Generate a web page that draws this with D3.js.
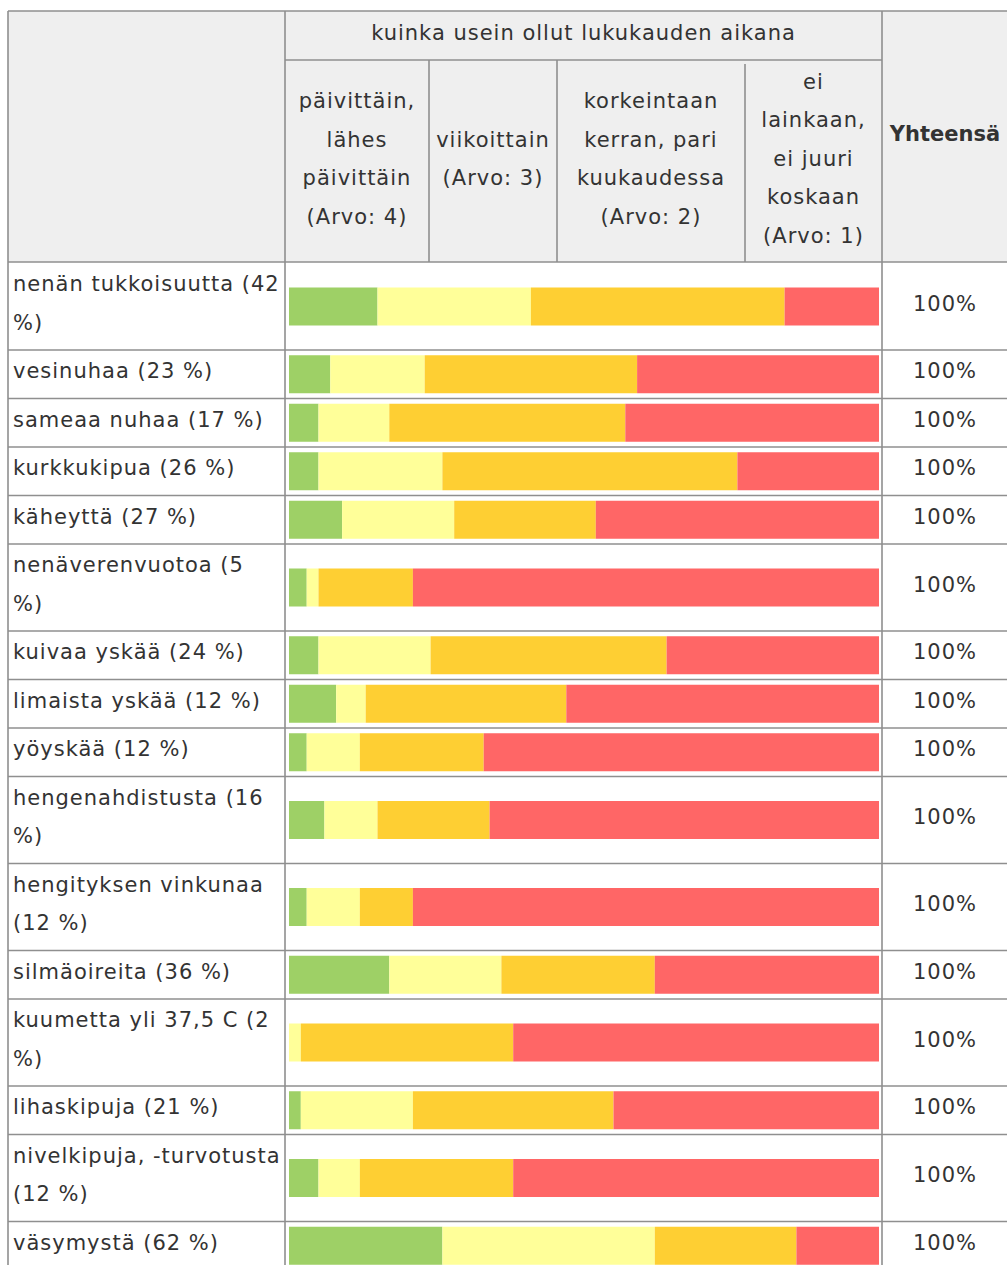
<!DOCTYPE html>
<html lang="fi">
<head>
<meta charset="utf-8">
<style>
  body { margin: 0; padding: 0; background: #fff; }
  svg text { font-family: "DejaVu Sans", Verdana, sans-serif; fill: #333; }
</style>
</head>
<body>
<svg width="1007" height="1265"></svg>
<script src="https://d3js.org/d3.v7.min.js"></script>
<script>
// data (% of answers per frequency class)
var categories = [
  "nenän tukkoisuutta (42 %)", "vesinuhaa (23 %)", "sameaa nuhaa (17 %)", "kurkkukipua (26 %)",
  "käheyttä (27 %)", "nenäverenvuotoa (5 %)", "kuivaa yskää (24 %)", "limaista yskää (12 %)",
  "yöyskää (12 %)", "hengenahdistusta (16 %)", "hengityksen vinkunaa (12 %)", "silmäoireita (36 %)",
  "kuumetta yli 37,5 C (2 %)", "lihaskipuja (21 %)", "nivelkipuja, -turvotusta (12 %)", "väsymystä (62 %)"
];
var daily   = [15, 7, 5, 5, 9, 3, 5, 8, 3, 6, 3, 17, 0, 2, 5, 26];
var weekly  = [26, 16, 12, 21, 19, 2, 19, 5, 9, 9, 9, 19, 2, 19, 7, 36];
var monthly = [43, 36, 40, 50, 24, 16, 40, 34, 21, 19, 9, 26, 36, 34, 26, 24];
var never   = [16, 41, 43, 24, 48, 79, 36, 53, 67, 66, 79, 38, 62, 45, 62, 14];

var groupTitle = "kuinka usein ollut lukukauden aikana";
var seriesHeaders = [
  ["päivittäin,", "lähes", "päivittäin", "(Arvo: 4)"],
  ["viikoittain", "(Arvo: 3)"],
  ["korkeintaan", "kerran, pari", "kuukaudessa", "(Arvo: 2)"],
  ["ei", "lainkaan,", "ei juuri", "koskaan", "(Arvo: 1)"]
];
var totalTitle = "Yhteensä";
var colors = ["#9ed066", "#ffff99", "#fecf33", "#ff6666"];

var keys = ["daily", "weekly", "monthly", "never"];
var data = categories.map(function(c, i) {
  return { label: c, daily: daily[i], weekly: weekly[i], monthly: monthly[i], never: never[i] };
});

var svg = d3.select("svg");
var border = "#8f8f8f", headBg = "#efefef";
var fontSize = 21, lineH = 38.5, pad = 5;

var left = 8, labelRight = 285, barRight = 882, right = 1008;
var colEdges = [labelRight, 429, 557, 745, barRight];
var tableTop = 11, head1 = 60, head2 = 262;

var x = d3.scaleLinear().domain([0, 100]).range([289, 879]);
var z = d3.scaleOrdinal().domain(keys).range(colors);

var gBg = svg.append("g"), gBars = svg.append("g"), gText = svg.append("g"), gLines = svg.append("g");

function txt(sel) {
  return sel.append("text").style("font-size", fontSize + "px").style("letter-spacing", "1px");
}

// header background
gBg.append("rect").attr("x", left).attr("y", tableTop).attr("width", right - left)
  .attr("height", head2 - tableTop).attr("fill", headBg);

txt(gText).attr("x", (labelRight + barRight) / 2).attr("y", (tableTop + head1) / 2 + 4.5)
  .attr("text-anchor", "middle").text(groupTitle);

seriesHeaders.forEach(function(lines, i) {
  var cx = (colEdges[i] + colEdges[i + 1]) / 2;
  var blockTop = (head1 + head2) / 2 - lines.length * lineH / 2;
  var t = txt(gText).attr("text-anchor", "middle");
  lines.forEach(function(l, j) {
    t.append("tspan").attr("x", cx).attr("y", blockTop + 24 + j * lineH).text(l);
  });
});

gText.append("text").attr("x", (barRight + right) / 2).attr("y", (tableTop + head2) / 2 + 4)
  .attr("text-anchor", "middle").style("font-size", fontSize + "px").style("font-weight", "bold")
  .text(totalTitle);

// wrap labels, then stack rows
var maxW = 268;
var rowTop = head2 + 1, rows = [];
data.forEach(function(d) {
  var t = txt(gText).attr("x", left + 5);
  var words = d.label.split(/\s+/), lines = [], line = [];
  words.forEach(function(w) {
    line.push(w);
    t.text(line.join(" "));
    if (t.node().getComputedTextLength() > maxW && line.length > 1) {
      line.pop();
      lines.push(line.join(" "));
      line = [w];
    }
  });
  lines.push(line.join(" "));
  t.text(null);
  var h = lines.length * lineH + 2 * pad;
  lines.forEach(function(l, j) {
    t.append("tspan").attr("x", left + 5).attr("y", rowTop + pad + 23 + j * lineH).text(l);
  });
  rows.push({ d: d, y: rowTop, h: h });
  rowTop += h;
});

var stack = d3.stack().keys(keys)(data);
var barH = 38;
gBars.selectAll("g").data(stack).enter().append("g")
  .attr("fill", function(s) { return z(s.key); })
  .selectAll("rect").data(function(s) { return s; }).enter().append("rect")
  .attr("x", function(s) { return x(s[0]); })
  .attr("width", function(s) { return x(s[1]) - x(s[0]); })
  .attr("y", function(s, i) { return rows[i].y + rows[i].h / 2 - barH / 2; })
  .attr("height", barH);

gText.selectAll(".total").data(rows).enter().append("text")
  .attr("class", "total")
  .attr("x", (barRight + right) / 2)
  .attr("y", function(r) { return r.y + r.h / 2 + 4; })
  .attr("text-anchor", "middle")
  .style("font-size", fontSize + "px").style("letter-spacing", "1px")
  .text(function(r) { return d3.sum(keys, function(k) { return r.d[k]; }) + "%"; });

// grid lines
function hline(y, x1, x2) {
  gLines.append("line").attr("x1", x1).attr("x2", x2).attr("y1", y).attr("y2", y)
    .attr("stroke", border).attr("stroke-width", 1.6);
}
function vline(xv, y1, y2) {
  gLines.append("line").attr("x1", xv).attr("x2", xv).attr("y1", y1).attr("y2", y2)
    .attr("stroke", border).attr("stroke-width", 1.6);
}
hline(tableTop, left, right);
hline(head1, labelRight, barRight);
hline(head2, left, right);
rows.forEach(function(r) { hline(r.y + r.h, left, right); });
vline(left, tableTop, 1265);
vline(labelRight, tableTop, 1265);
vline(barRight, tableTop, 1265);
vline(right, tableTop, 1265);
vline(colEdges[1], head1, head2);
vline(colEdges[2], head1, head2);
vline(colEdges[3], head1 + 4, head2);
</script>
</body>
</html>
